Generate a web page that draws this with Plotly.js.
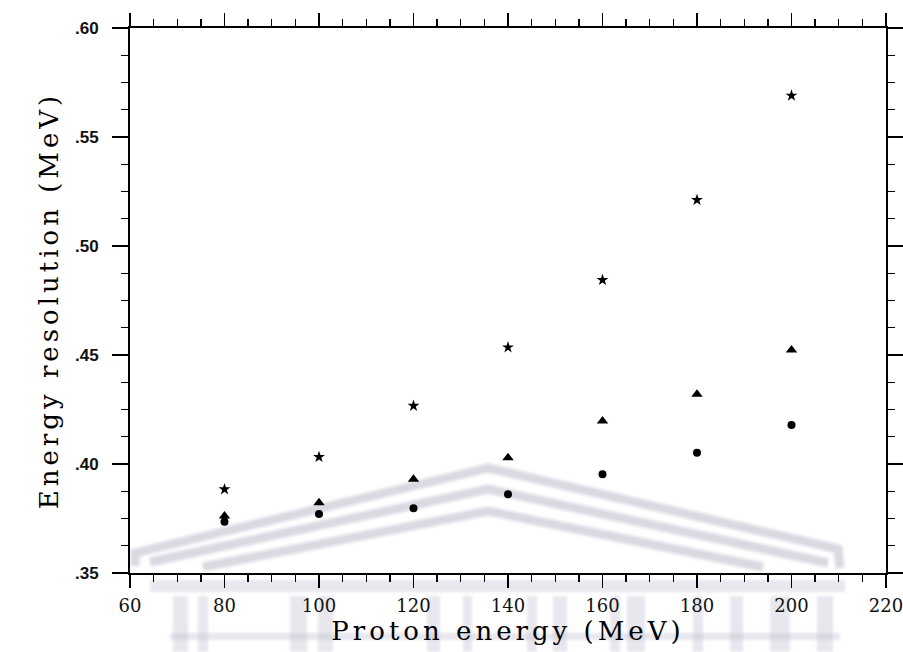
<!DOCTYPE html>
<html>
<head>
<meta charset="utf-8">
<script src="https://cdn.plot.ly/plotly-3.0.1.min.js"></script>
<style>
  html, body { margin: 0; padding: 0; background: #ffffff; }
  #chart { width: 903px; height: 652px; }
  .xtitle, .ytitle { letter-spacing: 4px; }
  .shapelayer path { filter: blur(1.5px); }
</style>
</head>
<body>
<div id="chart"></div>
<script>
// ---- data ----
const protonEnergy = [80, 100, 120, 140, 160, 180, 200];
const resolutionStar = [0.3884, 0.4032, 0.4267, 0.4535, 0.4844, 0.5211, 0.5690];
const resolutionTriangle = [0.3761, 0.3822, 0.3930, 0.4029, 0.4197, 0.4320, 0.4523];
const resolutionCircle = [0.3735, 0.3771, 0.3797, 0.3861, 0.3953, 0.4052, 0.4179];

const yTickVals = [0.35, 0.40, 0.45, 0.50, 0.55, 0.60];
const yTickText = ['.35', '.40', '.45', '.50', '.55', '.60'];
const xTickVals = [60, 80, 100, 120, 140, 160, 180, 200, 220];
const xTickText = ['60', '80', '100', '120', '140', '160', '180', '200', '220'];

// ---- geometry of the plot area (pixels) ----
const W = 903, H = 652;
const L = 130, R = 17, T = 28, B = 79;
const PW = W - L - R, PH = H - T - B;
const px = v => (v - L) / PW;          // pixel -> paper x
const py = v => (H - B - v) / PH;      // pixel -> paper y

// faint scanned watermark (decoration, paper coordinates)
const wmLine = 'rgba(185,185,202,0.55)';
const wmFill = 'rgba(195,195,210,0.40)';
function poly(points) {
  return 'M ' + points.map(p => px(p[0]) + ' ' + py(p[1])).join(' L ');
}
const shapes = [];
[[[135, 566], [135, 553], [488, 468], [838, 549], [840, 568]],
 [[150, 562], [488, 489], [828, 563]],
 [[203, 567], [488, 511], [763, 567]]].forEach(pts => {
  shapes.push({type: 'path', xref: 'paper', yref: 'paper', path: poly(pts),
    line: {color: wmLine, width: 9}, layer: 'below'});
});
shapes.push({type: 'rect', xref: 'paper', yref: 'paper',
  x0: px(150), x1: px(845), y0: py(592), y1: py(580),
  fillcolor: wmFill, line: {width: 0}, layer: 'below'});
shapes.push({type: 'rect', xref: 'paper', yref: 'paper',
  x0: px(170), x1: px(840), y0: py(640), y1: py(633),
  fillcolor: wmFill, line: {width: 0}, layer: 'below'});
[[173, 188], [198, 208], [290, 307], [318, 333], [427, 440], [463, 472],
 [527, 537], [553, 567], [610, 620], [627, 645], [693, 703], [730, 743],
 [770, 790], [817, 833]].forEach(c => {
  shapes.push({type: 'rect', xref: 'paper', yref: 'paper',
    x0: px(c[0]), x1: px(c[1]), y0: py(652), y1: py(596),
    fillcolor: wmFill, line: {width: 0}, layer: 'below'});
});

const traces = [
  {x: protonEnergy, y: resolutionStar, mode: 'markers', type: 'scatter', name: 'star',
   marker: {symbol: 'star', size: 9, color: '#000000'}},
  {x: protonEnergy, y: resolutionTriangle, mode: 'markers', type: 'scatter', name: 'triangle',
   marker: {symbol: 'triangle-up', size: 10, color: '#000000'}},
  {x: protonEnergy, y: resolutionCircle, mode: 'markers', type: 'scatter', name: 'circle',
   marker: {symbol: 'circle', size: 8, color: '#000000'}}
];

const layout = {
  width: W, height: H,
  margin: {l: L, r: R, t: T, b: B},
  paper_bgcolor: '#ffffff',
  plot_bgcolor: 'rgba(0,0,0,0)',
  showlegend: false,
  shapes: shapes,
  xaxis: {
    range: [60, 220],
    tickmode: 'array', tickvals: xTickVals, ticktext: xTickText,
    ticks: 'outside', ticklen: 13, tickwidth: 1.6, tickcolor: '#000',
    minor: {tickmode: 'linear', tick0: 60, dtick: 5, ticks: 'outside', ticklen: 7, tickwidth: 1.4, tickcolor: '#000'},
    showline: true, linecolor: '#000', linewidth: 2, mirror: 'ticks',
    showgrid: false, zeroline: false,
    ticklabelstandoff: 2,
    ticklabeloverflow: 'allow',
    tickfont: {family: 'DejaVu Serif', size: 18, color: '#111'},
    title: {text: 'Proton energy (MeV)', standoff: 2,
            font: {family: 'DejaVu Serif', size: 26, color: '#000'}}
  },
  yaxis: {
    range: [0.35, 0.60],
    tickmode: 'array', tickvals: yTickVals, ticktext: yTickText,
    ticks: 'outside', ticklen: 16, tickwidth: 1.6, tickcolor: '#000',
    minor: {tickmode: 'linear', tick0: 0.35, dtick: 0.0125, ticks: 'outside', ticklen: 7, tickwidth: 1.4, tickcolor: '#000'},
    showline: true, linecolor: '#000', linewidth: 2, mirror: 'ticks',
    showgrid: false, zeroline: false,
    ticklabelstandoff: 10,
    ticklabeloverflow: 'allow',
    tickfont: {family: 'Liberation Sans', size: 17, color: '#111', weight: 'bold'},
    title: {text: 'Energy resolution (MeV)', standoff: 9,
            font: {family: 'DejaVu Serif', size: 26, color: '#000'}}
  }
};

Plotly.newPlot('chart', traces, layout, {displayModeBar: false, staticPlot: true});
</script>
</body>
</html>
